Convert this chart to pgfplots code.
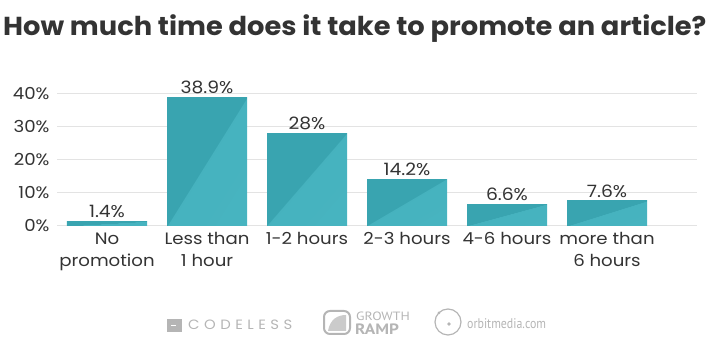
\documentclass[border=0pt]{standalone}
\usepackage{pgfplots}
\pgfplotsset{compat=1.18}
\usepackage{fontspec}
\setmainfont{Poppins}[FakeStretch=1.1]
\newfontfamily\titlefont{Poppins}[FakeStretch=1.05]
\newfontfamily\condfont{PT Sans}[FakeStretch=0.85]
\newfontfamily\widefont{PT Sans}[FakeStretch=1.15]
\definecolor{bardark}{HTML}{39A4B0}
\definecolor{barlight}{HTML}{48B5C1}
\definecolor{txt}{HTML}{333333}
\definecolor{gridc}{HTML}{E3E3E3}
\definecolor{logo}{HTML}{B5B5B5}
\pgfdeclarehorizontalshading{barsplit}{100bp}{color(0bp)=(bardark); color(49.9bp)=(bardark); color(50bp)=(barlight!85!bardark); color(100bp)=(barlight)}
\pgfplotsset{onebar/.style={draw=none, shading=barsplit, shading angle=#1}}
\begin{document}
\begin{tikzpicture}
\useasboundingbox (0,0) rectangle (710pt,355pt);
\begin{axis}[
  at={(57pt,129pt)}, anchor=south west,
  scale only axis,
  width=640pt, height=132pt,
  xmin=-0.5, xmax=5.9,
  ymin=0, ymax=40,
  ytick={0,10,20,30,40},
  yticklabel={\pgfmathprintnumber{\tick}\%},
  /pgf/number format/assume math mode=true,
  xtick={0,1,2,3,4,5},
  xticklabels={No\\promotion, Less than\\1 hour, 1-2 hours, 2-3 hours, 4-6 hours, more than\\6 hours},
  xticklabel style={align=center, font=\fontsize{16.5}{22}\selectfont, text=txt, yshift=-3pt},
  yticklabel style={font=\fontsize{16.5}{18}\selectfont, text=txt, xshift=-4pt},
  ymajorgrids, grid style={gridc, line width=1pt},
  axis line style={draw=none},
  major tick length=0pt,
  clip=false,
  ybar, bar width=80pt, bar shift=0pt,
  nodes near coords={\pgfmathprintnumber{\pgfplotspointmeta}\%},
  nodes near coords style={font=\fontsize{17}{18}\selectfont, text=txt, anchor=south, yshift=0pt},
]
\addplot[onebar=-86.7] coordinates {(0,1.4)};
\addplot[onebar=-31.9] coordinates {(1,38.9)};
\addplot[onebar=-40.9] coordinates {(2,28)};
\addplot[onebar=-59.6] coordinates {(3,14.2)};
\addplot[onebar=-74.8] coordinates {(4,6.6)};
\addplot[onebar=-72.6] coordinates {(5,7.6)};
\end{axis}
\node[anchor=west, inner sep=0pt, font=\titlefont\bfseries\fontsize{26}{28}\selectfont, text=txt] at (3pt,326pt) {How much time does it take to promote an article?};
% logos
\fill[logo] (167pt,23pt) rectangle (182pt,36pt);
\fill[white] (171pt,29pt) rectangle (176pt,30.2pt);
\node[anchor=west, font=\fontsize{13.5}{14}\selectfont, text=logo, inner sep=0pt] at (188pt,30pt) {C\,\,O\,\,D\,\,E\,\,L\,\,E\,\,S\,\,S};
\draw[logo, line width=2pt, rounded corners=6pt] (324pt,21pt) -- (324pt,44pt) -- (350pt,44pt) -- (350pt,21pt) -- cycle;
\fill[logo!70] (328pt,24pt) .. controls (330pt,36pt) and (338pt,40pt) .. (346pt,40pt) -- (346pt,24pt) -- cycle;
\node[anchor=south west, font=\widefont\fontsize{12}{12}\selectfont, text=logo, inner sep=0pt] at (356pt,34pt) {GROWTH};
\node[anchor=north west, font=\widefont\bfseries\fontsize{15}{15}\selectfont, text=logo, inner sep=0pt] at (355pt,31pt) {RAMP};
\draw[logo, line width=1.2pt] (448pt,33pt) circle (13pt);
\fill[logo] (449pt,31pt) circle (1.8pt);
\fill[logo] (439pt,42pt) circle (1.5pt);
\node[anchor=west, font=\condfont\fontsize{14}{14}\selectfont, text=logo, inner sep=0pt] at (467pt,31pt) {orbitmedia.com};
\end{tikzpicture}
\end{document}
